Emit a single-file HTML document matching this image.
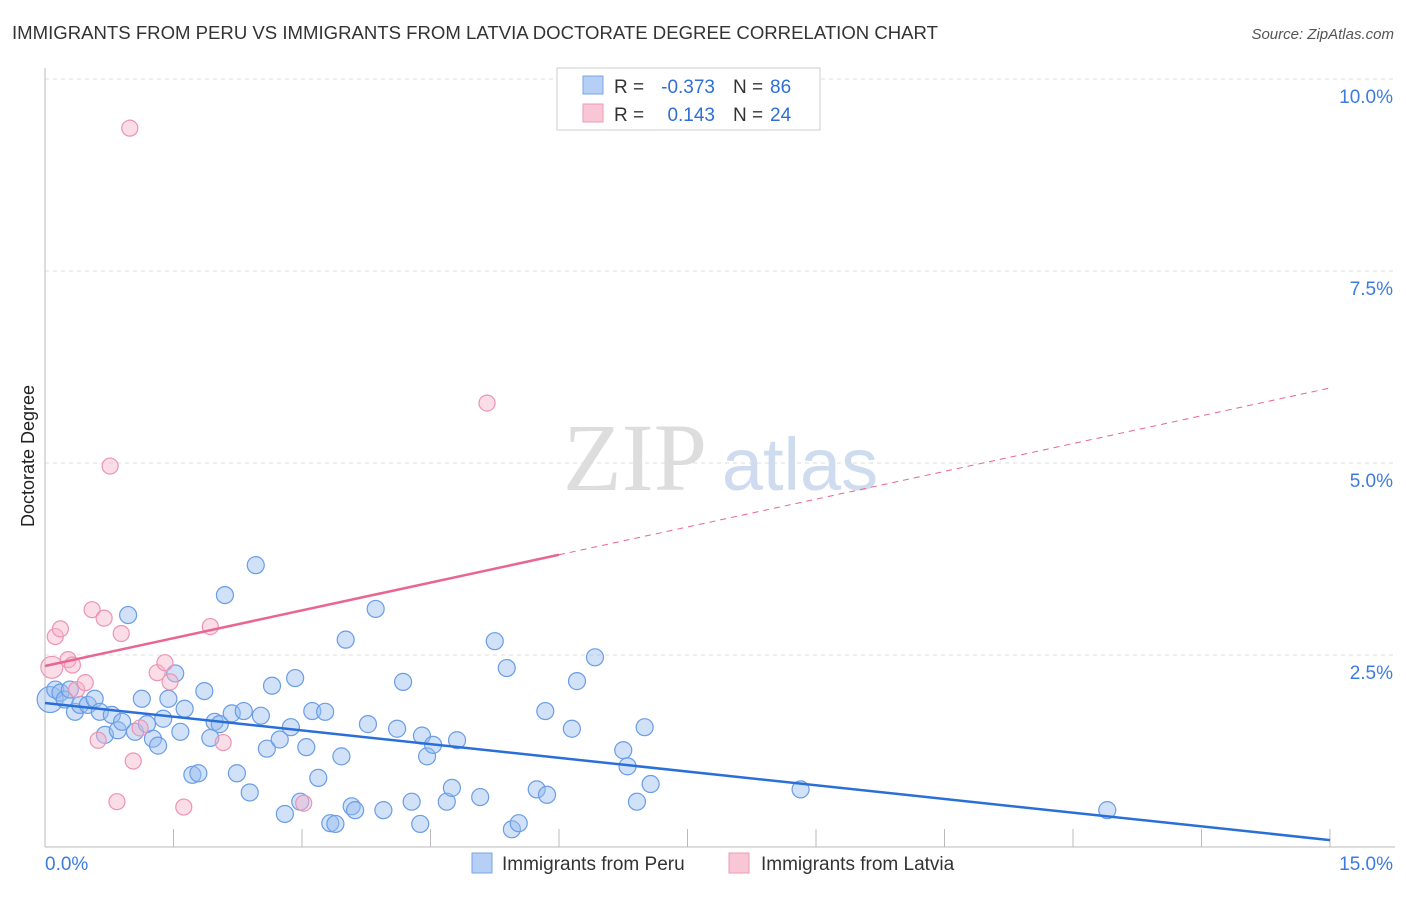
<!DOCTYPE html>
<html><head><meta charset="utf-8"><style>
body{margin:0;background:#fff;font-family:"Liberation Sans",sans-serif}
</style></head><body>
<svg id="c" width="1406" height="892" xmlns="http://www.w3.org/2000/svg">
<text x="12" y="39" font-size="18" fill="#333" textLength="926" lengthAdjust="spacingAndGlyphs">IMMIGRANTS FROM PERU VS IMMIGRANTS FROM LATVIA DOCTORATE DEGREE CORRELATION CHART</text>
<text x="1394" y="39" font-size="15" fill="#555" font-style="italic" text-anchor="end">Source: ZipAtlas.com</text>
<text x="34" y="456" font-size="18" fill="#222" text-anchor="middle" transform="rotate(-90 34 456)">Doctorate Degree</text>
<g><text x="635" y="490" font-size="96" fill="#ddd" font-family="Liberation Serif" text-anchor="middle">ZIP</text><text x="800" y="490" font-size="74" fill="#cfdcf0" text-anchor="middle">atlas</text></g>
<g id="grid"></g><g id="pts"></g><g id="lines"></g>
<g>
<rect x="557" y="68" width="263" height="62" fill="#fff" stroke="#ccc"/>
<rect x="583" y="76" width="20" height="18" fill="#b5cff5" stroke="#7aa6e6"/>
<rect x="583" y="104" width="20" height="18" fill="#f9c6d6" stroke="#ee9ab6"/>
<text x="614" y="93" font-size="19" fill="#333">R =</text>
<text x="715" y="93" font-size="19" fill="#2f6fd6" text-anchor="end">-0.373</text>
<text x="733" y="93" font-size="19" fill="#333">N =</text>
<text x="770" y="93" font-size="19" fill="#2f6fd6">86</text>
<text x="614" y="121" font-size="19" fill="#333">R =</text>
<text x="715" y="121" font-size="19" fill="#2f6fd6" text-anchor="end">0.143</text>
<text x="733" y="121" font-size="19" fill="#333">N =</text>
<text x="770" y="121" font-size="19" fill="#2f6fd6">24</text>
</g>
<g>
<rect x="472" y="853" width="20" height="20" fill="#b5cff5" stroke="#7aa6e6"/>
<text x="502" y="870" font-size="19" fill="#333">Immigrants from Peru</text>
<rect x="729" y="853" width="20" height="20" fill="#f9c6d6" stroke="#ee9ab6"/>
<text x="761" y="870" font-size="19" fill="#333">Immigrants from Latvia</text>
</g>
</svg>
<script>
const yTicks=[2.5,5,7.5,10];
const yTickLabels=["2.5%","5.0%","7.5%","10.0%"];
const xTickCount=[0,1.5,3,4.5,6,7.5,9,10.5,12,13.5,15];
const pX=[0.06,0.12,0.18,0.23,0.29,0.35,0.41,0.5,0.58,0.64,0.7,0.78,0.85,0.9,0.97,1.05,1.13,1.19,1.26,1.32,1.38,1.44,1.52,1.58,1.63,1.72,1.79,1.86,1.93,1.98,2.04,2.1,2.18,2.24,2.32,2.39,2.46,2.52,2.59,2.65,2.74,2.8,2.87,2.92,2.98,3.05,3.12,3.19,3.27,3.33,3.39,3.46,3.51,3.58,3.62,3.77,3.86,3.95,4.11,4.18,4.28,4.38,4.4,4.46,4.53,4.69,4.75,4.81,5.08,5.25,5.39,5.45,5.53,5.74,5.84,5.86,6.15,6.21,6.42,6.75,6.8,6.91,7.0,7.07,8.82,12.4];
const pY=[1.92,2.05,2.01,1.92,2.05,1.76,1.85,1.85,1.93,1.76,1.46,1.72,1.52,1.63,3.02,1.5,1.93,1.6,1.41,1.32,1.67,1.93,2.26,1.5,1.8,0.94,0.96,2.03,1.42,1.63,1.6,3.28,1.74,0.96,1.77,0.71,3.67,1.71,1.28,2.1,1.4,0.43,1.56,2.2,0.59,1.3,1.77,0.9,1.76,0.31,0.3,1.18,2.7,0.53,0.48,1.6,3.1,0.48,1.54,2.15,0.59,0.3,1.45,1.18,1.33,0.59,0.77,1.39,0.65,2.68,2.33,0.23,0.31,0.75,1.77,0.68,1.54,2.16,2.47,1.26,1.05,0.59,1.56,0.82,0.75,0.48];
const latviaX=[0.08,0.12,0.18,0.27,0.32,0.37,0.47,0.55,0.62,0.69,0.76,0.84,0.89,0.99,1.03,1.11,1.31,1.4,1.46,1.62,1.93,2.08,3.02,5.16];
const latviaY=[2.34,2.74,2.84,2.44,2.37,2.05,2.14,3.09,1.39,2.98,4.96,0.59,2.78,9.36,1.12,1.55,2.27,2.4,2.15,0.52,2.87,1.36,0.57,5.78];
const peruFit=[1.875,0.09];
const latviaFit=[2.357,5.977];
const solidEnd=6;
const NS="http://www.w3.org/2000/svg";
const sx=v=>45+v*(1285/15), sy=v=>847-v*76.8;
function mk(t,a,p){const e=document.createElementNS(NS,t);for(const k in a)e.setAttribute(k,a[k]);p.appendChild(e);return e;}
const g=document.getElementById('grid');
yTicks.forEach((t,i)=>{
 const l=mk('line',{x1:45,x2:1395,y1:sy(t),y2:sy(t),stroke:'#ddd','stroke-dasharray':'4 4'},g);
 
 
 const tx=mk('text',{x:1393,y:sy(t)+24,'font-size':19,fill:'#3d7be0','text-anchor':'end'},g);
 tx.textContent=yTickLabels[i];
 
 
});
mk('line',{x1:45,x2:45,y1:68,y2:847,stroke:'#bbb'},g);
mk('line',{x1:45,x2:1395,y1:847,y2:847,stroke:'#bbb'},g);
xTickCount.forEach(t=>{const l=mk('line',{x1:sx(t),x2:sx(t),y1:829,y2:847,stroke:'#bbb'},g);
 
 });
let a=mk('text',{x:45,y:870,'font-size':19,fill:'#3d7be0'},g);a.textContent='0.0%';


a=mk('text',{x:1393,y:870,'font-size':19,fill:'#3d7be0','text-anchor':'end'},g);a.textContent='15.0%';


const P=document.getElementById('pts');
pX.forEach((x,i)=>{const c=mk('circle',{cx:sx(x),cy:sy(pY[i]),r:i==0?13:8.5,fill:'rgba(150,188,240,0.45)',stroke:'#6a9de6','stroke-width':1.2},P);
 
 });
latviaX.forEach((x,i)=>{const c=mk('circle',{cx:sx(x),cy:sy(latviaY[i]),r:i==0?11:8,fill:'rgba(246,180,202,0.45)',stroke:'#ec94b2','stroke-width':1.2},P);
 
 });
const L=document.getElementById('lines');
let ln=mk('line',{x1:sx(0),y1:sy(peruFit[0]),x2:sx(15),y2:sy(peruFit[1]),stroke:'#2a6fd8','stroke-width':2.5},L);


const ly=x=>latviaFit[0]+(latviaFit[1]-latviaFit[0])*x/15;
ln=mk('line',{x1:sx(0),y1:sy(ly(0)),x2:sx(solidEnd),y2:sy(ly(solidEnd)),stroke:'#e86690','stroke-width':2.5},L);


ln=mk('line',{x1:sx(solidEnd),y1:sy(ly(solidEnd)),x2:sx(15),y2:sy(ly(15)),stroke:'#e86690','stroke-width':1,'stroke-dasharray':'6 5'},L);


</script>
</body></html>
